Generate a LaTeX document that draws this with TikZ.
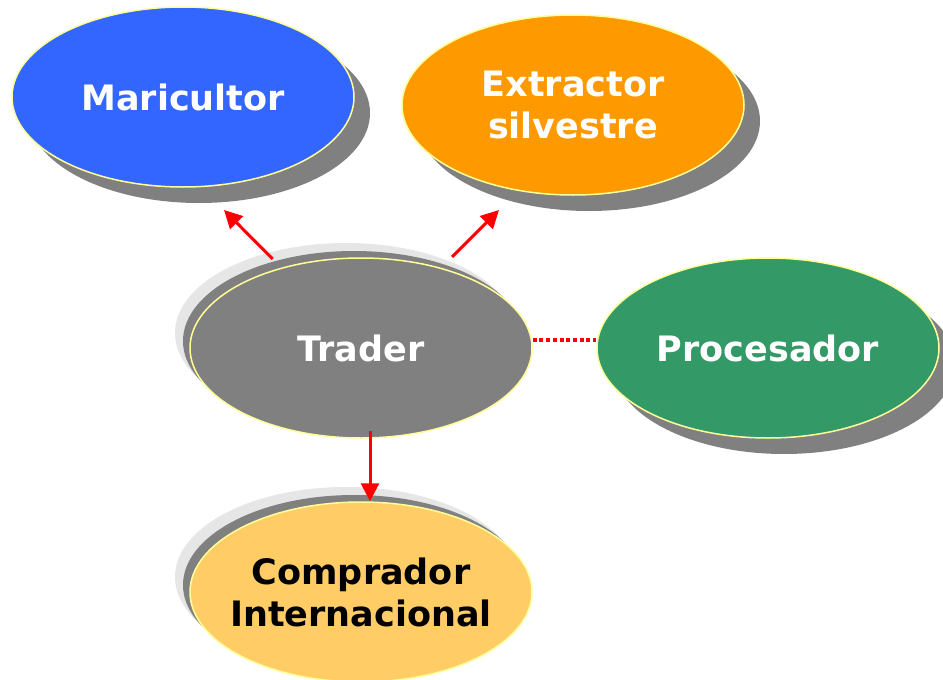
\documentclass[tikz,border=0pt]{standalone}
\usepackage{fontspec}
\setmainfont{DejaVu Sans}
\usetikzlibrary{shapes.geometric,arrows.meta,calc}
\definecolor{cblue}{HTML}{3366FF}
\definecolor{corange}{HTML}{FF9900}
\definecolor{cgray}{HTML}{808080}
\definecolor{cgreen}{HTML}{339966}
\definecolor{cpale}{HTML}{FFCC66}
\definecolor{clight}{HTML}{E6E6E6}
\definecolor{cyel}{HTML}{FFFF99}
\begin{document}
\begin{tikzpicture}[x=1pt,y=-1pt,
  oval/.style={ellipse, minimum width=342pt, minimum height=180pt, inner sep=0pt,
    draw=cyel, line width=1.5pt},
  txt/.style={font=\fontsize{35}{42}\selectfont\bfseries, text=white, align=center, inner sep=0pt},
  shad/.style={ellipse, minimum width=342pt, minimum height=180pt, inner sep=0pt, fill=#1},
  arr/.style={red, line width=3pt, -{Triangle[length=18pt,width=18pt]}},
  dotline/.style={red, line width=3.3pt, dash pattern=on 4pt off 2.7pt},
]
\fill[white] (0,0) rectangle (943,680);
\useasboundingbox (0,0) rectangle (943,680);

% shadows
\node[shad=cgray] (marS) at (199,113) {};
\node[shad=cgray] (extS) at (589,121) {};
\node[shad=cgray] (proS) at (784,364) {};
\node[shad=clight] (traL) at (346,333) {};
\node[shad=cgray] (traS) at (354,341) {};
\node[shad=clight] (comL) at (346,577) {};
\node[shad=cgray] (comS) at (354,585) {};

% main ellipses
\node[oval, fill=cblue] (mar) at (183,97) {};
\node[oval, fill=corange] (ext) at (573,105) {};
\node[oval, fill=cgreen] (pro) at (768,348) {};
\node[oval, fill=cgray] (tra) at (361,348) {};
\node[oval, fill=cpale] (com) at (361,592) {};

% labels
\node[txt] (marT) at (mar) {Maricultor};
\node[txt] (extT) at (ext) {Extractor\\silvestre};
\node[txt] (proT) at (pro) {Procesador};
\node[txt] (traT) at (tra) {Trader};
\node[txt, text=black] (comT) at (com) {Comprador\\Internacional};

% connectors
\coordinate (mtip) at (224,210);
\coordinate (etip) at (499,210);
\draw[arr] ($(tra)!0.645!(mtip)$) -- (mtip);
\draw[arr] ($(tra)!0.66!(etip)$) -- (etip);
\draw[arr, shorten <=-8pt] ([xshift=9pt]tra.south) -- ([xshift=9pt]com.north);
\draw[dotline] ([yshift=8pt]tra.east) -- ([yshift=8pt]pro.west);
\end{tikzpicture}
\end{document}
